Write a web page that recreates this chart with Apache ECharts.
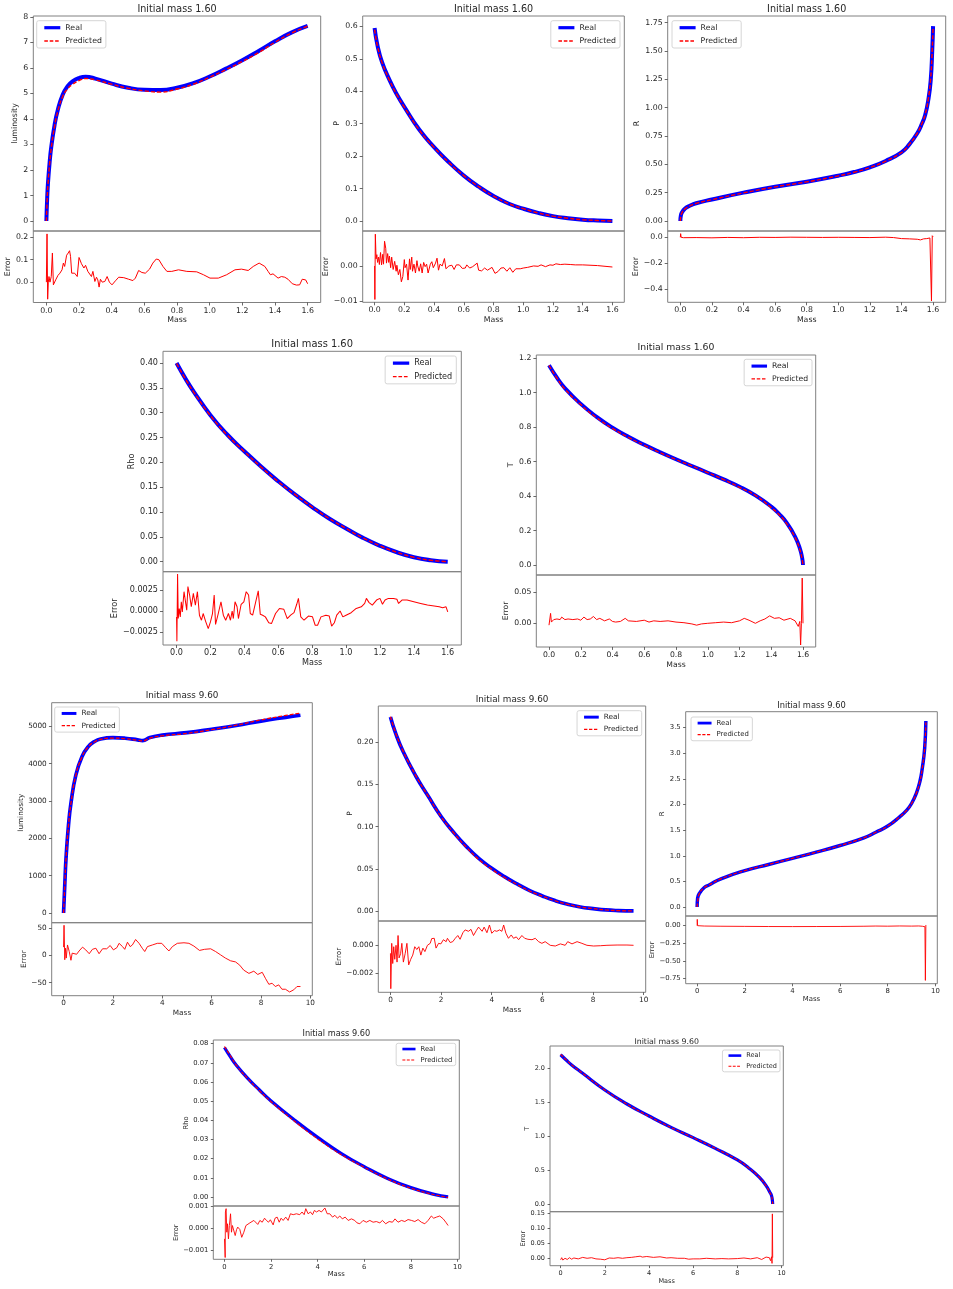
<!DOCTYPE html>
<html>
<head>
<meta charset="utf-8">
<script src="https://cdn.jsdelivr.net/npm/echarts@6/dist/echarts.min.js"></script>
<style>
html, body { margin: 0; padding: 0; background: #fff; }
#chart { width: 953px; height: 1289px; }
</style>
</head>
<body>
<div id="chart"></div>
<script>
// ---- tick labels ----
const ticksMass16 = [0, 0.2, 0.4, 0.6, 0.8, 1.0, 1.2, 1.4, 1.6];
const ticksMass96 = [0, 2, 4, 6, 8, 10];
const ticksLum16 = [0, 1, 2, 3, 4, 5, 6, 7, 8];
const ticksLumErr16 = [0, 0.1, 0.2];
const ticksPres16 = [0, 0.1, 0.2, 0.3, 0.4, 0.5, 0.6];
const ticksPresErr16 = [-0.01, 0];
const ticksRad16 = [0, 0.25, 0.5, 0.75, 1.0, 1.25, 1.5, 1.75];
const ticksRadErr16 = [-0.4, -0.2, 0];
const ticksRho16 = [0, 0.05, 0.1, 0.15, 0.2, 0.25, 0.3, 0.35, 0.4];
const ticksRhoErr16 = [-0.0025, 0, 0.0025];
const ticksT16 = [0, 0.2, 0.4, 0.6, 0.8, 1.0, 1.2];
const ticksTErr16 = [0, 0.05];
const ticksLum96 = [0, 1000, 2000, 3000, 4000, 5000];
const ticksLumErr96 = [-50, 0, 50];
const ticksPres96 = [0, 0.05, 0.1, 0.15, 0.2];
const ticksPresErr96 = [-0.002, 0];
const ticksRad96 = [0, 0.5, 1.0, 1.5, 2.0, 2.5, 3.0, 3.5];
const ticksRadErr96 = [-0.75, -0.5, -0.25, 0];
const ticksRho96 = [0, 0.01, 0.02, 0.03, 0.04, 0.05, 0.06, 0.07, 0.08];
const ticksRhoErr96 = [-0.001, 0, 0.001];
const ticksT96 = [0, 0.5, 1.0, 1.5, 2.0];
const ticksTErr96 = [0, 0.05, 0.1, 0.15];

// ---- initial mass 1.60 ----
const lumM16 = [0, 0.005, 0.01, 0.02, 0.03, 0.05, 0.07, 0.1, 0.13, 0.16, 0.2, 0.24, 0.3, 0.4, 0.5, 0.6, 0.7, 0.8, 0.9, 1.0, 1.1, 1.2, 1.3, 1.4, 1.5, 1.6];
const lumReal16 = [0, 0.9, 1.5, 2.3, 2.9, 3.75, 4.35, 4.95, 5.28, 5.47, 5.6, 5.65, 5.58, 5.38, 5.22, 5.14, 5.13, 5.22, 5.4, 5.66, 5.97, 6.3, 6.66, 7.04, 7.38, 7.64];
const lumPred16 = [0, 0.85, 1.45, 2.25, 2.85, 3.7, 4.3, 4.88, 5.18, 5.35, 5.5, 5.58, 5.53, 5.36, 5.2, 5.1, 5.05, 5.17, 5.36, 5.63, 5.93, 6.25, 6.6, 7.0, 7.36, 7.63];
const lumErr16 = [[0,0],[0.004,0.215],[0.008,-0.076],[0.012,0.0],[0.016,0.025],[0.022,0.0],[0.03,0.025],[0.037,0.13],[0.043,-0.012],[0.057,0.01],[0.071,0.03],[0.083,0.04],[0.096,0.055],[0.104,0.085],[0.112,0.07],[0.124,0.12],[0.134,0.13],[0.142,0.14],[0.148,0.115],[0.155,0.04],[0.173,0.04],[0.189,0.025],[0.2,0.11],[0.215,0.082],[0.23,0.063],[0.24,0.075],[0.254,0.048],[0.266,0.055],[0.276,0.025],[0.285,0.048],[0.297,0.003],[0.307,0.022],[0.315,0.01],[0.323,-0.022],[0.331,0.013],[0.342,0.0],[0.358,0.003],[0.372,0.025],[0.386,0.0],[0.402,-0.012],[0.423,0.006],[0.443,0.022],[0.474,0.02],[0.504,0.013],[0.53,0.007],[0.545,0.018],[0.565,0.052],[0.585,0.043],[0.606,0.04],[0.632,0.058],[0.652,0.085],[0.673,0.103],[0.689,0.1],[0.714,0.07],[0.738,0.048],[0.768,0.048],[0.809,0.055],[0.86,0.048],[0.921,0.046],[0.962,0.033],[1.002,0.018],[1.053,0.018],[1.104,0.033],[1.155,0.055],[1.195,0.058],[1.236,0.052],[1.267,0.07],[1.303,0.085],[1.338,0.07],[1.358,0.048],[1.372,0.033],[1.388,0.037],[1.399,0.04],[1.419,0.018],[1.439,0.025],[1.46,0.022],[1.48,0.013],[1.506,-0.007],[1.531,-0.013],[1.551,-0.012],[1.567,0.013],[1.577,0.007],[1.588,0.01],[1.6,-0.007]];

const presM16 = [0, 0.02, 0.05, 0.1, 0.15, 0.2, 0.3, 0.4, 0.5, 0.6, 0.7, 0.8, 0.9, 1.0, 1.1, 1.2, 1.3, 1.4, 1.5, 1.6];
const presReal16 = [0.595, 0.54, 0.49, 0.435, 0.39, 0.352, 0.282, 0.228, 0.181, 0.14, 0.106, 0.077, 0.054, 0.038, 0.025, 0.015, 0.0085, 0.004, 0.0015, 0.0];
const presPred16 = [0.59, 0.538, 0.489, 0.434, 0.389, 0.351, 0.281, 0.227, 0.18, 0.14, 0.106, 0.077, 0.054, 0.038, 0.025, 0.015, 0.0085, 0.004, 0.0015, 0.0];
const presErr16 = [[0,0],[0.002,-0.0095],[0.005,0.009],[0.01,0.002],[0.015,0.0032],[0.02,0.001],[0.027,0.0025],[0.032,0.0004],[0.04,0.0038],[0.047,0.0003],[0.055,0.0033],[0.06,0.0005],[0.067,0.007],[0.075,0.005],[0.08,0.0008],[0.088,0.0035],[0.095,0.001],[0.1,0.0028],[0.108,-0.0005],[0.115,0.0025],[0.125,-0.001],[0.135,0.0013],[0.145,-0.0015],[0.15,0.0002],[0.16,-0.0025],[0.17,-0.001],[0.18,-0.0045],[0.19,-0.003],[0.2,0.0018],[0.205,-0.0005],[0.215,0.0005],[0.225,-0.004],[0.235,0.002],[0.24,-0.001],[0.25,0.0025],[0.255,-0.0015],[0.265,0.0005],[0.275,-0.002],[0.285,0.0015],[0.29,0.0],[0.3,-0.0015],[0.31,0.0006],[0.32,-0.002],[0.33,0.001],[0.34,-0.0002],[0.35,0.0005],[0.36,-0.002],[0.375,0.0005],[0.385,0.0012],[0.395,-0.0005],[0.41,0.0008],[0.42,0.0022],[0.43,-0.0012],[0.44,0.0005],[0.455,0.0],[0.47,0.0021],[0.48,-0.0008],[0.5,0.0],[0.51,-0.0005],[0.52,0.0002],[0.535,-0.001],[0.55,0.0003],[0.57,0.0003],[0.59,-0.0007],[0.61,-0.0006],[0.62,0.0003],[0.64,-0.0006],[0.66,-0.0002],[0.69,0.0008],[0.7,-0.0012],[0.72,-0.0014],[0.74,-0.0006],[0.76,-0.0012],[0.77,-0.0008],[0.79,-0.0004],[0.81,-0.0021],[0.83,-0.0016],[0.85,-0.0006],[0.87,-0.0005],[0.89,-0.0015],[0.91,-0.0005],[0.93,-0.0018],[0.95,-0.0008],[0.98,-0.0008],[1.0,-0.0006],[1.03,-0.0004],[1.07,0.0],[1.1,-0.0001],[1.12,0.0003],[1.15,-0.0002],[1.18,0.0003],[1.2,0.0002],[1.22,0.0006],[1.25,0.0004],[1.28,0.0005],[1.32,0.0004],[1.35,0.0003],[1.4,0.0003],[1.5,0.0001],[1.6,-0.0003]];

const radM16 = [0, 0.003, 0.01, 0.03, 0.06, 0.1, 0.2, 0.4, 0.6, 0.8, 1.0, 1.1, 1.2, 1.3, 1.4, 1.45, 1.5, 1.53, 1.55, 1.57, 1.585, 1.595, 1.6];
const radReal16 = [0.0, 0.045, 0.075, 0.11, 0.135, 0.157, 0.19, 0.25, 0.303, 0.347, 0.4, 0.432, 0.474, 0.53, 0.606, 0.676, 0.774, 0.86, 0.935, 1.07, 1.24, 1.51, 1.72];
const radPred16 = [0.0, 0.04, 0.072, 0.108, 0.133, 0.155, 0.188, 0.248, 0.301, 0.345, 0.398, 0.43, 0.472, 0.528, 0.604, 0.676, 0.776, 0.862, 0.94, 1.08, 1.26, 1.52, 1.70];
const radErr16 = [[0,0.0],[0.002,0.028],[0.005,0.0],[0.02,-0.003],[0.1,-0.002],[0.2,-0.004],[0.3,-0.001],[0.4,-0.003],[0.5,0.0],[0.6,-0.001],[0.7,0.001],[0.8,0.0],[0.9,-0.001],[1.0,0.0],[1.1,-0.001],[1.2,-0.002],[1.3,0.001],[1.35,-0.002],[1.4,-0.01],[1.45,-0.012],[1.5,-0.015],[1.52,-0.02],[1.54,-0.012],[1.56,-0.01],[1.58,-0.005],[1.585,-0.015],[1.59,-0.49],[1.595,0.012],[1.6,0.005]];

const rhoM16 = [0, 0.05, 0.1, 0.2, 0.3, 0.4, 0.5, 0.6, 0.7, 0.8, 0.9, 1.0, 1.1, 1.2, 1.3, 1.4, 1.5, 1.6];
const rhoReal16 = [0.40, 0.37, 0.343, 0.295, 0.2555, 0.2225, 0.191, 0.162, 0.135, 0.11, 0.087, 0.067, 0.048, 0.032, 0.019, 0.009, 0.003, 0.0];
const rhoPred16 = [0.399, 0.369, 0.342, 0.294, 0.2545, 0.2215, 0.19, 0.161, 0.135, 0.11, 0.087, 0.067, 0.048, 0.032, 0.019, 0.009, 0.003, 0.0];
const rhoErr16 = [[0,-0.0007],[0.002,-0.0036],[0.006,0.0044],[0.01,-0.0009],[0.016,0.0003],[0.022,-0.0007],[0.028,0.0011],[0.034,-0.0001],[0.044,0.0023],[0.052,0.0023],[0.06,0.0001],[0.067,0.0029],[0.077,0.0019],[0.087,0.0005],[0.099,0.0021],[0.111,0.0007],[0.123,0.0023],[0.135,-0.0005],[0.147,-0.0011],[0.157,-0.0003],[0.171,-0.0012],[0.187,-0.0021],[0.2,-0.0013],[0.212,-0.0003],[0.222,0.0019],[0.23,-0.0016],[0.246,-0.0003],[0.262,0.0011],[0.276,-0.0005],[0.29,-0.0011],[0.306,-0.0003],[0.318,-0.0011],[0.328,0.0],[0.335,-0.0009],[0.345,0.0011],[0.357,0.0005],[0.365,-0.0009],[0.381,0.0008],[0.397,0.0011],[0.411,0.0023],[0.425,0.0019],[0.435,-0.0003],[0.449,-0.0005],[0.465,0.0009],[0.482,0.0024],[0.494,-0.0004],[0.508,-0.0005],[0.524,-0.0007],[0.544,-0.0014],[0.56,-0.0015],[0.584,-0.0003],[0.607,0.0003],[0.633,0.0002],[0.653,-0.0009],[0.673,-0.0005],[0.693,-0.0002],[0.709,0.0008],[0.719,0.0015],[0.733,-0.0007],[0.752,-0.0011],[0.778,-0.0006],[0.802,-0.0007],[0.818,-0.0017],[0.832,-0.0017],[0.852,-0.0007],[0.881,-0.0005],[0.901,-0.0006],[0.915,-0.0018],[0.931,-0.0014],[0.945,-0.0005],[0.965,0.0],[0.981,-0.0007],[1.0,-0.0005],[1.03,-0.0002],[1.06,0.0003],[1.09,0.0005],[1.11,0.0009],[1.12,0.0015],[1.136,0.001],[1.155,0.0007],[1.18,0.0013],[1.2,0.0015],[1.215,0.0008],[1.23,0.0013],[1.25,0.0015],[1.28,0.0015],[1.3,0.0014],[1.31,0.0009],[1.33,0.0013],[1.36,0.0013],[1.4,0.0011],[1.44,0.0009],[1.48,0.0007],[1.52,0.0006],[1.55,0.0005],[1.57,0.0004],[1.58,0.0003],[1.59,0.0005],[1.6,-0.0001]];

const tM16 = [0, 0.05, 0.1, 0.2, 0.3, 0.4, 0.5, 0.6, 0.7, 0.8, 0.9, 1.0, 1.1, 1.2, 1.3, 1.4, 1.45, 1.5, 1.55, 1.58, 1.595, 1.6];
const tReal16 = [1.16, 1.088, 1.027, 0.935, 0.86, 0.797, 0.744, 0.698, 0.655, 0.614, 0.575, 0.536, 0.497, 0.455, 0.404, 0.339, 0.296, 0.242, 0.165, 0.097, 0.04, 0.0];
const tPred16 = [1.158, 1.085, 1.022, 0.931, 0.855, 0.793, 0.741, 0.695, 0.652, 0.612, 0.575, 0.536, 0.496, 0.451, 0.404, 0.333, 0.292, 0.236, 0.16, 0.09, 0.03, 0.0];
const tErr16 = [[0,-0.003],[0.005,0.0],[0.01,0.016],[0.015,0.002],[0.02,0.005],[0.03,0.006],[0.04,0.003],[0.05,0.007],[0.07,0.006],[0.08,0.01],[0.1,0.006],[0.12,0.007],[0.15,0.006],[0.18,0.007],[0.2,0.005],[0.22,0.01],[0.24,0.006],[0.26,0.007],[0.28,0.011],[0.3,0.006],[0.32,0.008],[0.35,0.004],[0.38,0.007],[0.4,0.003],[0.42,0.002],[0.45,0.003],[0.48,0.008],[0.5,0.004],[0.55,0.003],[0.6,0.005],[0.63,0.002],[0.66,0.004],[0.7,0.003],[0.75,0.004],[0.8,0.002],[0.85,0.001],[0.9,-0.001],[0.93,-0.003],[0.96,-0.001],[1.0,0.0],[1.05,0.001],[1.1,0.002],[1.15,0.001],[1.2,0.004],[1.23,0.008],[1.26,0.005],[1.3,0.0],[1.33,0.004],[1.36,0.007],[1.39,0.012],[1.42,0.008],[1.45,0.009],[1.48,0.005],[1.52,0.008],[1.55,0.004],[1.57,-0.005],[1.58,0.003],[1.585,-0.035],[1.59,0.0],[1.595,0.073],[1.6,0.0]];

// ---- initial mass 9.60 ----
const lumM96 = [0, 0.05, 0.1, 0.2, 0.3, 0.5, 0.75, 1.0, 1.25, 1.5, 2.0, 2.5, 3.0, 3.2, 3.5, 4.0, 5.0, 6.0, 7.0, 8.0, 9.0, 9.6];
const lumReal96 = [0, 750, 1460, 2350, 2940, 3700, 4190, 4455, 4590, 4660, 4695, 4680, 4638, 4618, 4700, 4765, 4830, 4920, 5020, 5140, 5240, 5295];
const lumPred96 = [0, 740, 1450, 2345, 2935, 3695, 4185, 4450, 4580, 4650, 4685, 4665, 4628, 4608, 4685, 4745, 4810, 4910, 5030, 5170, 5290, 5352];
const lumErr96 = [[0,15],[0.02,55],[0.05,-8],[0.08,13],[0.11,-5],[0.16,19],[0.23,7],[0.3,-9],[0.35,4],[0.43,7],[0.53,2],[0.63,8],[0.77,15],[0.9,10],[1.04,3],[1.17,11],[1.31,13],[1.44,3],[1.58,12],[1.75,12],[1.89,18],[2.02,10],[2.16,14],[2.25,22],[2.39,16],[2.48,11],[2.59,24],[2.7,16],[2.79,19],[2.92,29],[3.06,22],[3.19,13],[3.29,7],[3.4,16],[3.6,19],[3.8,22],[3.98,22],[4.14,14],[4.27,8],[4.41,16],[4.61,22],[4.88,23],[5.08,22],[5.28,17],[5.51,9],[5.71,11],[5.96,12],[6.16,7],[6.36,1],[6.56,-5],[6.77,-10],[6.97,-12],[7.14,-18],[7.3,-27],[7.51,-33],[7.71,-29],[7.87,-35],[8.05,-31],[8.18,-42],[8.32,-53],[8.45,-51],[8.58,-57],[8.72,-54],[8.85,-62],[8.99,-62],[9.16,-67],[9.33,-63],[9.46,-57],[9.53,-54],[9.6,-57]];

const presM96 = [0, 0.2, 0.5, 1, 1.5, 2, 2.5, 3, 3.5, 4, 4.5, 5, 5.5, 6, 6.5, 7, 7.5, 8, 8.5, 9, 9.6];
const presReal96 = [0.230, 0.211, 0.189, 0.160, 0.1356, 0.112, 0.093, 0.0763, 0.062, 0.0506, 0.0407, 0.032, 0.0241, 0.0178, 0.0123, 0.0079, 0.0047, 0.0028, 0.0012, 0.0004, 0.0];
const presPred96 = [0.2305, 0.2115, 0.1895, 0.1605, 0.1355, 0.1118, 0.0925, 0.0755, 0.0608, 0.0495, 0.0397, 0.0314, 0.0236, 0.0175, 0.0121, 0.0078, 0.0047, 0.0028, 0.0012, 0.0004, 0.0];
const presErr96 = [[0,-0.00057],[0.013,-0.0031],[0.05,0.00014],[0.09,-0.0013],[0.13,-0.0001],[0.17,-0.001],[0.22,0.0],[0.26,-0.0012],[0.3,0.0007],[0.34,-0.0009],[0.4,-0.0006],[0.45,0.00014],[0.51,-0.0012],[0.58,-0.0006],[0.65,0.00014],[0.72,-0.0014],[0.8,-0.001],[0.88,-0.0007],[0.96,-0.0001],[1.04,-0.0003],[1.12,-0.0001],[1.2,-0.0007],[1.28,-0.0002],[1.36,-0.00045],[1.46,0.0],[1.57,0.00014],[1.63,0.00048],[1.73,0.0005],[1.8,-0.0002],[1.9,0.00014],[1.99,0.0001],[2.09,0.0004],[2.2,0.00026],[2.25,0.0005],[2.36,0.0002],[2.46,0.00026],[2.56,0.0005],[2.66,0.0007],[2.75,0.00043],[2.86,0.0009],[2.95,0.0011],[3.08,0.001],[3.18,0.00114],[3.28,0.0007],[3.39,0.00105],[3.48,0.0013],[3.54,0.00117],[3.62,0.001],[3.7,0.0013],[3.81,0.0009],[3.91,0.00145],[4.0,0.00086],[4.11,0.00105],[4.2,0.001],[4.31,0.0011],[4.4,0.001],[4.47,0.00145],[4.56,0.00086],[4.66,0.0005],[4.77,0.00074],[4.86,0.0005],[4.97,0.0006],[5.06,0.0004],[5.19,0.0007],[5.3,0.0005],[5.43,0.00043],[5.59,0.0004],[5.72,0.0005],[5.85,0.00026],[5.98,0.00014],[6.11,0.00026],[6.31,0.0],[6.51,-0.00005],[6.71,0.0001],[6.9,0.0],[7.0,0.00026],[7.17,0.0001],[7.37,0.00026],[7.56,0.00014],[7.76,0.0],[8.02,-0.00005],[8.29,-0.00003],[8.55,0.0],[8.95,0.00002],[9.34,0.00002],[9.6,0.0]];

const radM96 = [0, 0.02, 0.1, 0.3, 0.5, 1, 2, 3, 4, 5, 6, 7, 7.5, 8, 8.5, 8.8, 9, 9.2, 9.35, 9.45, 9.55, 9.6];
const radReal96 = [0, 0.17, 0.27, 0.38, 0.43, 0.55, 0.71, 0.83, 0.95, 1.07, 1.2, 1.35, 1.46, 1.58, 1.76, 1.89, 2.02, 2.22, 2.45, 2.71, 3.1, 3.63];
const radPred96 = [0, 0.1, 0.27, 0.38, 0.43, 0.55, 0.71, 0.83, 0.95, 1.07, 1.2, 1.35, 1.46, 1.58, 1.76, 1.89, 2.02, 2.22, 2.45, 2.71, 3.1, 3.6];
const radErr96 = [[0,0.0],[0.005,0.09],[0.02,0.0],[0.05,-0.003],[0.3,-0.005],[1,-0.008],[2,-0.01],[3,-0.012],[4,-0.013],[5,-0.012],[6,-0.011],[7,-0.008],[7.5,-0.005],[8,-0.007],[8.5,-0.004],[9,-0.006],[9.3,-0.004],[9.45,-0.008],[9.52,0.01],[9.56,-0.015],[9.58,-0.78],[9.6,0.01]];

const rhoM96 = [0, 0.25, 0.5, 1, 1.5, 2, 3, 4, 5, 6, 7, 8, 9, 9.6];
const rhoReal96 = [0.078, 0.0732, 0.0689, 0.0619, 0.0558, 0.0501, 0.0402, 0.0311, 0.0228, 0.0158, 0.0097, 0.0049, 0.0014, 0.0];
const rhoPred96 = [0.0785, 0.0737, 0.0689, 0.0617, 0.0555, 0.0497, 0.0396, 0.0303, 0.0222, 0.0155, 0.0094, 0.0046, 0.0012, -0.0002];
const rhoErr96 = [[0,-0.00048],[0.03,-0.00132],[0.04,0.00073],[0.07,0.00088],[0.1,-0.00018],[0.13,0.0002],[0.17,-0.00048],[0.21,0.00012],[0.26,0.00065],[0.3,-0.00018],[0.34,0.00012],[0.4,0.00005],[0.46,-0.00033],[0.52,-0.00006],[0.57,0.00005],[0.66,-0.00006],[0.74,-0.00041],[0.83,-0.00018],[0.92,0.00012],[1.0,0.00005],[1.09,0.00024],[1.17,0.00017],[1.26,0.00035],[1.34,0.00027],[1.43,0.00017],[1.52,0.00035],[1.62,0.00027],[1.72,0.00045],[1.8,0.00035],[1.89,0.00027],[1.97,0.00038],[2.09,0.00015],[2.17,0.00045],[2.26,0.0005],[2.35,0.00027],[2.43,0.00045],[2.52,0.00035],[2.63,0.0005],[2.73,0.00035],[2.83,0.00065],[2.95,0.00061],[3.09,0.00065],[3.23,0.00061],[3.33,0.00073],[3.42,0.00061],[3.49,0.00088],[3.59,0.00065],[3.69,0.00073],[3.78,0.00061],[3.86,0.0008],[3.95,0.00073],[4.06,0.0008],[4.16,0.00073],[4.23,0.00073],[4.31,0.00091],[4.41,0.00065],[4.52,0.00065],[4.64,0.0005],[4.74,0.00058],[4.85,0.00045],[4.95,0.00055],[5.06,0.00042],[5.18,0.0005],[5.31,0.00035],[5.45,0.00042],[5.59,0.00035],[5.69,0.00024],[5.81,0.0002],[5.95,0.00035],[6.09,0.00027],[6.24,0.00035],[6.38,0.00027],[6.52,0.0003],[6.67,0.00024],[6.78,0.00035],[6.92,0.0002],[7.07,0.0003],[7.21,0.00027],[7.32,0.00042],[7.45,0.00027],[7.6,0.00035],[7.74,0.0003],[7.88,0.00039],[8.03,0.00035],[8.17,0.0003],[8.31,0.00039],[8.45,0.00027],[8.6,0.0002],[8.74,0.00035],[8.88,0.00055],[8.98,0.00045],[9.1,0.0005],[9.24,0.00055],[9.39,0.00042],[9.5,0.00027],[9.56,0.00035],[9.6,0.00012]];

const tM96 = [0, 0.25, 0.5, 1, 2, 3, 4, 5, 6, 7, 8, 8.5, 9, 9.3, 9.5, 9.55, 9.58, 9.6];
const tReal96 = [2.2, 2.123, 2.05, 1.926, 1.68, 1.474, 1.297, 1.13, 0.978, 0.82, 0.649, 0.536, 0.393, 0.27, 0.157, 0.12, 0.07, 0.0];
const tPred96 = [2.205, 2.125, 2.05, 1.926, 1.68, 1.472, 1.292, 1.128, 0.978, 0.821, 0.65, 0.535, 0.392, 0.268, 0.152, 0.12, 0.06, 0.0];
const tErr96 = [[0,-0.005],[0.05,0.002],[0.1,-0.006],[0.2,0.0],[0.3,-0.004],[0.4,0.002],[0.5,-0.003],[0.6,0.001],[0.8,-0.002],[1.0,0.003],[1.2,0.0],[1.4,0.002],[1.6,-0.002],[1.8,-0.003],[2.0,-0.005],[2.2,0.001],[2.4,0.0],[2.6,0.002],[2.8,0.0],[3.0,0.002],[3.2,0.003],[3.4,0.005],[3.6,0.007],[3.7,0.004],[3.9,0.006],[4.2,0.003],[4.5,0.005],[4.8,0.001],[5.0,0.002],[5.3,0.0],[5.6,0.0],[5.8,-0.003],[6.0,-0.002],[6.3,-0.002],[6.6,0.0],[7.0,-0.002],[7.3,-0.001],[7.6,-0.002],[8.0,-0.001],[8.3,0.001],[8.6,-0.002],[8.9,0.002],[9.1,-0.004],[9.3,0.004],[9.45,0.002],[9.5,-0.008],[9.55,0.005],[9.57,-0.017],[9.585,0.148],[9.6,0.002]];

// ---- layout of the ten panels (box = left, right, top, split, bottom in px) ----
const panels = [
  { title: 'Initial mass 1.60', yName: 'luminosity', m: lumM16, real: lumReal16, pred: lumPred16, err: lumErr16,
    xr: [-0.08, 1.68], xt: ticksMass16, xd: 1, yr: [-0.39, 8.03], yt: ticksLum16, yd: 0,
    er: [-0.0907, 0.228], et: ticksLumErr16, ed: 1,
    box: [33.3, 320.7, 16, 231, 302.5], ty: 10, fs: 7.8, tfs: 9.6, s: 1, gaps: [15, 23.3, 18.5], leg: { left: 36.7, top: 20.7 } },
  { title: 'Initial mass 1.60', yName: 'P', m: presM16, real: presReal16, pred: presPred16, err: presErr16,
    xr: [-0.08, 1.68], xt: ticksMass16, xd: 1, yr: [-0.0308, 0.632], yt: ticksPres16, yd: 1,
    er: [-0.0103, 0.0099], et: ticksPresErr16, ed: 2,
    box: [362.7, 624.3, 16, 231, 302.3], ty: 10, fs: 7.8, tfs: 9.6, s: 1, gaps: [21, 31, 18.7], leg: { right: 333, top: 20.7 } },
  { title: 'Initial mass 1.60', yName: 'R', m: radM16, real: radReal16, pred: radPred16, err: radErr16,
    xr: [-0.08, 1.68], xt: ticksMass16, xd: 1, yr: [-0.0883, 1.809], yt: ticksRad16, yd: 2,
    er: [-0.5, 0.0485], et: ticksRadErr16, ed: 1,
    box: [667.7, 945.7, 16, 231, 302.3], ty: 10, fs: 7.8, tfs: 9.6, s: 1, gaps: [27.7, 27.7, 18.7], leg: { left: 672, top: 20.7 } },
  { title: 'Initial mass 1.60', yName: 'Rho', m: rhoM16, real: rhoReal16, pred: rhoPred16, err: rhoErr16,
    xr: [-0.08, 1.68], xt: ticksMass16, xd: 1, yr: [-0.0201, 0.4235], yt: ticksRho16, yd: 2,
    er: [-0.00405, 0.00468], et: ticksRhoErr16, ed: 4,
    box: [163, 461.3, 351.3, 571.7, 645], ty: 345.7, fs: 8.1, tfs: 9.9, s: 1.02, gaps: [26.3, 43.7, 18.3], leg: { right: 496.7, top: 356 } },
  { title: 'Initial mass 1.60', yName: 'T', m: tM16, real: tReal16, pred: tPred16, err: tErr16,
    xr: [-0.08, 1.68], xt: ticksMass16, xd: 1, yr: [-0.058, 1.219], yt: ticksT16, yd: 1,
    er: [-0.0382, 0.0779], et: ticksTErr16, ed: 2,
    box: [536.3, 815.7, 355, 575, 647], ty: 348.3, fs: 7.7, tfs: 9.3, s: 0.97, gaps: [23.6, 27, 19], leg: { right: 141, top: 359.3 } },
  { title: 'Initial mass 9.60', yName: 'luminosity', m: lumM96, real: lumReal96, pred: lumPred96, err: lumErr96,
    xr: [-0.48, 10.08], xt: ticksMass96, xd: 0, yr: [-260, 5632], yt: ticksLum96, yd: 0,
    er: [-73.8, 59.7], et: ticksLumErr96, ed: 0,
    box: [51.7, 312.3, 702.7, 922.7, 995.7], ty: 696.7, fs: 7.3, tfs: 8.8, s: 0.92, gaps: [27.7, 23.4, 18.6], leg: { left: 54.7, top: 707 } },
  { title: 'Initial mass 9.60', yName: 'P', m: presM96, real: presReal96, pred: presPred96, err: presErr96,
    xr: [-0.48, 10.08], xt: ticksMass96, xd: 0, yr: [-0.0119, 0.243], yt: ticksPres96, yd: 2,
    er: [-0.003357, 0.001736], et: ticksPresErr96, ed: 3,
    box: [378.3, 645.7, 706, 921, 992.3], ty: 700, fs: 7.3, tfs: 8.8, s: 0.92, gaps: [27.6, 36.6, 18.4], leg: { right: 311.3, top: 710.7 } },
  { title: 'Initial mass 9.60', yName: 'R', m: radM96, real: radReal96, pred: radPred96, err: radErr96,
    xr: [-0.48, 10.08], xt: ticksMass96, xd: 0, yr: [-0.1757, 3.812], yt: ticksRad96, yd: 1,
    er: [-0.827, 0.138], et: ticksRadErr96, ed: 2,
    box: [685.7, 937.3, 711.7, 916, 983.7], ty: 707.3, fs: 6.9, tfs: 8.3, s: 0.87, gaps: [18.4, 26.7, 16.3], leg: { left: 691, top: 717 } },
  { title: 'Initial mass 9.60', yName: 'Rho', m: rhoM96, real: rhoReal96, pred: rhoPred96, err: rhoErr96,
    xr: [-0.48, 10.08], xt: ticksMass96, xd: 0, yr: [-0.0047, 0.0819], yt: ticksRho96, yd: 2,
    er: [-0.0014, 0.001], et: ticksRhoErr96, ed: 3,
    box: [213.3, 459.3, 1040, 1206, 1259.3], ty: 1035, fs: 6.8, tfs: 8.2, s: 0.82, gaps: [24, 33.3, 14], leg: { right: 497.3, top: 1043.3 } },
  { title: 'Initial mass 9.60', yName: 'T', m: tM96, real: tReal96, pred: tPred96, err: tErr96,
    xr: [-0.48, 10.08], xt: ticksMass96, xd: 0, yr: [-0.1135, 2.329], yt: ticksT96, yd: 1,
    er: [-0.0247, 0.1553], et: ticksTErr96, ed: 2,
    box: [550, 783.3, 1046, 1211.7, 1265.7], ty: 1042.3, fs: 6.5, tfs: 7.8, s: 0.8, gaps: [19.3, 21.7, 13.6], leg: { right: 173, top: 1050 } }
];

const FONT = 'DejaVu Sans';
const INK = '#262626';
const SPINE = '#808080';

function fmt(d) {
  return function (v) {
    if (Math.abs(v) < 1e-12) v = 0;
    return v.toFixed(d).replace('-', '\u2212');
  };
}
function zip(xs, ys) { return xs.map((x, i) => [x, ys[i]]); }

const grid = [], xAxis = [], yAxis = [], series = [], legend = [], title = [];

panels.forEach((p, i) => {
  const [L, R, T, S, B] = p.box;
  const gMain = 2 * i, gErr = 2 * i + 1;
  grid.push({ left: L, top: T, width: R - L, height: S - T, show: true, borderColor: SPINE, borderWidth: 1, backgroundColor: 'transparent' });
  grid.push({ left: L, top: S, width: R - L, height: B - S, show: true, borderColor: SPINE, borderWidth: 1, backgroundColor: 'transparent' });

  const lbl = (vals, d, extra) => Object.assign({
    customValues: vals, formatter: fmt(d), fontSize: p.fs, fontFamily: FONT, color: INK, margin: 4
  }, extra || {});
  const tick = (vals) => ({ show: true, customValues: vals, length: 3 * p.s, lineStyle: { color: '#444', width: 0.8 } });
  const nameStyle = { fontSize: p.fs, fontFamily: FONT, color: INK };
  const noLine = { show: false, onZero: false };

  xAxis.push({ type: 'value', gridIndex: gMain, min: p.xr[0], max: p.xr[1], show: false, axisLine: noLine });
  xAxis.push({
    type: 'value', gridIndex: gErr, min: p.xr[0], max: p.xr[1], position: 'bottom',
    axisLine: noLine, splitLine: { show: false },
    axisTick: tick(p.xt), axisLabel: lbl(p.xt, p.xd),
    name: 'Mass', nameLocation: 'middle', nameGap: p.gaps[2] - p.fs * 0.6, nameTextStyle: nameStyle
  });
  yAxis.push({
    type: 'value', gridIndex: gMain, min: p.yr[0], max: p.yr[1], position: 'left',
    axisLine: noLine, splitLine: { show: false },
    axisTick: tick(p.yt), axisLabel: lbl(p.yt, p.yd, { margin: 5 }),
    name: p.yName, nameLocation: 'middle', nameGap: p.gaps[0] - p.fs * 0.6, nameTextStyle: nameStyle
  });
  yAxis.push({
    type: 'value', gridIndex: gErr, min: p.er[0], max: p.er[1], position: 'left',
    axisLine: noLine, splitLine: { show: false },
    axisTick: tick(p.et), axisLabel: lbl(p.et, p.ed, { margin: 5 }),
    name: 'Error', nameLocation: 'middle', nameGap: p.gaps[1] - p.fs * 0.6, nameTextStyle: nameStyle
  });

  const common = { type: 'line', symbol: 'none', silent: true, animation: false };
  series.push(Object.assign({}, common, {
    name: 'Real', xAxisIndex: gMain, yAxisIndex: gMain, data: zip(p.m, p.real),
    smooth: 0.5,
    lineStyle: { color: '#0000ff', width: 4 * p.s }, itemStyle: { color: '#0000ff' }, z: 2
  }));
  series.push(Object.assign({}, common, {
    name: 'Predicted', xAxisIndex: gMain, yAxisIndex: gMain, data: zip(p.m, p.pred),
    smooth: 0.5,
    lineStyle: { color: '#ff0000', width: 1.4 * p.s, type: [4.2 * p.s, 2 * p.s] }, itemStyle: { color: '#ff0000' }, z: 3
  }));
  series.push(Object.assign({}, common, {
    name: 'Error', xAxisIndex: gErr, yAxisIndex: gErr, data: p.err,
    lineStyle: { color: '#ff0000', width: Math.max(0.9, 1 * p.s) }, itemStyle: { color: '#ff0000' }, z: 2
  }));

  legend.push(Object.assign({
    orient: 'vertical', selectedMode: false,
    itemWidth: 16 * p.s, itemHeight: 8 * p.s, itemGap: 3.3 * p.s,
    padding: [2 * p.s, 4 * p.s, 2 * p.s, 6 * p.s],
    backgroundColor: 'rgba(255,255,255,0.85)', borderColor: '#d6d6d6', borderWidth: 1, borderRadius: 2,
    textStyle: { fontSize: p.fs, fontFamily: FONT, color: INK, lineHeight: 10 * p.s },
    itemStyle: { opacity: 0 },
    data: [
      { name: 'Real', itemStyle: { opacity: 0 }, lineStyle: { color: '#0000ff', width: 3.2 * p.s, type: 'solid' } },
      { name: 'Predicted', itemStyle: { opacity: 0 }, lineStyle: { color: '#ff0000', width: 1.3 * p.s, type: [3.6 * p.s, 1.8 * p.s] } }
    ]
  }, p.leg));

  title.push({
    text: p.title, left: (L + R) / 2, top: p.ty - p.tfs * 0.6, textAlign: 'center', padding: 0,
    textStyle: { fontSize: p.tfs, fontFamily: FONT, color: INK, fontWeight: 'normal' }
  });
});

const chart = echarts.init(document.getElementById('chart'), null, { renderer: 'canvas' });
chart.setOption({
  animation: false,
  backgroundColor: '#ffffff',
  textStyle: { fontFamily: FONT },
  title: title,
  legend: legend,
  grid: grid,
  xAxis: xAxis,
  yAxis: yAxis,
  series: series
});
</script>
</body>
</html>
